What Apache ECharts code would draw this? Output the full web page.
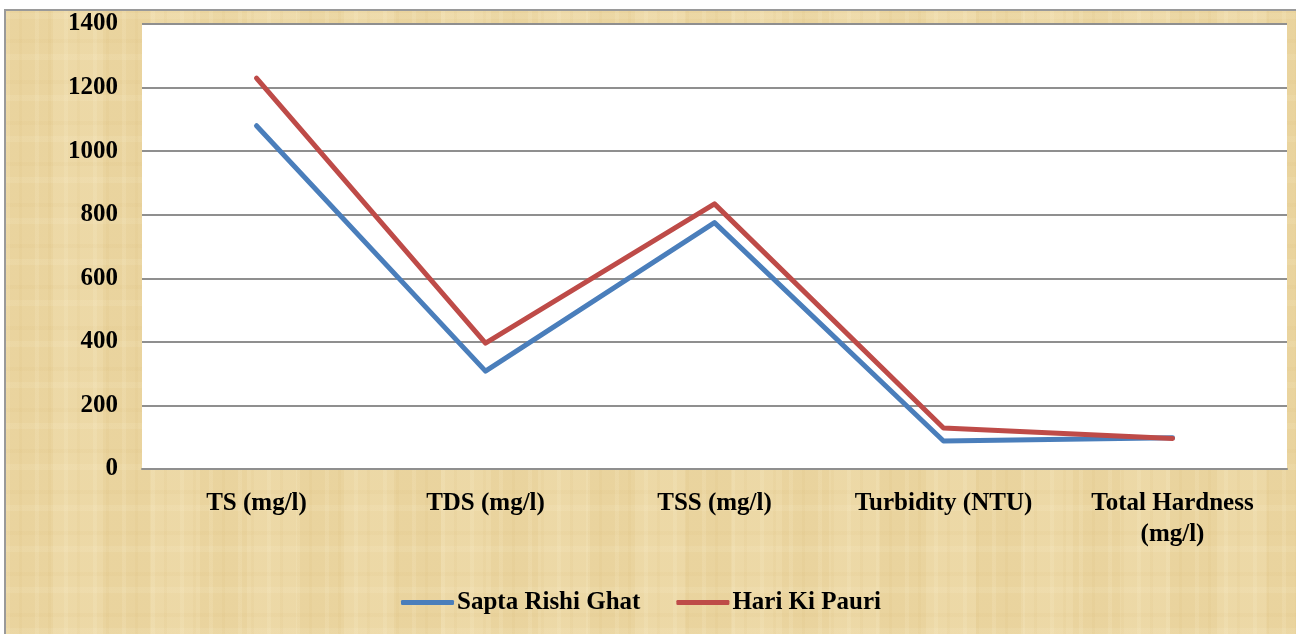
<!DOCTYPE html>
<html>
<head>
<meta charset="utf-8">
<script src="https://cdn.jsdelivr.net/npm/echarts@6/dist/echarts.min.js"></script>
<style>
  html, body { margin: 0; padding: 0; width: 1296px; height: 634px; overflow: hidden; background: #ffffff; }
  #paper {
    position: absolute; left: 4px; top: 9px; width: 1292px; height: 625px;
    border-left: 2px solid #9a9a9a; border-top: 2px solid #9a9a9a;
    box-sizing: border-box;
    background-color: #ebd6a2;
    background-image:
      repeating-linear-gradient(90deg, rgba(255,248,222,0.12) 0px, rgba(255,248,222,0.12) 4px, rgba(0,0,0,0) 4px, rgba(0,0,0,0) 13px, rgba(200,160,80,0.06) 13px, rgba(200,160,80,0.06) 16px, rgba(0,0,0,0) 16px, rgba(0,0,0,0) 29px),
      repeating-linear-gradient(0deg, rgba(255,248,222,0.10) 0px, rgba(255,248,222,0.10) 6px, rgba(0,0,0,0) 6px, rgba(0,0,0,0) 17px, rgba(200,160,80,0.05) 17px, rgba(200,160,80,0.05) 21px, rgba(0,0,0,0) 21px, rgba(0,0,0,0) 41px),
      repeating-linear-gradient(90deg, rgba(215,180,105,0.07) 0px, rgba(215,180,105,0.07) 47px, rgba(255,245,215,0.08) 47px, rgba(255,245,215,0.08) 97px);
  }
  #chart { position: absolute; left: 0; top: 0; width: 1296px; height: 634px; }
</style>
</head>
<body>
<div id="paper"></div>
<div id="chart"></div>
<script>
const categories = ['TS (mg/l)', 'TDS (mg/l)', 'TSS (mg/l)', 'Turbidity (NTU)', 'Total Hardness\n(mg/l)'];
const saptaRishiGhat = [1080, 308, 775, 88, 98];
const hariKiPauri = [1230, 396, 834, 129, 96];
const seriesNames = ['Sapta Rishi Ghat', 'Hari Ki Pauri'];

const chart = echarts.init(document.getElementById('chart'), null, { renderer: 'canvas' });
const font = '"Liberation Serif", "Times New Roman", serif';
chart.setOption({
  backgroundColor: 'transparent',
  animation: false,
  textStyle: { fontFamily: font },
  grid: {
    left: 142, right: 9, top: 24, bottom: 165,
    show: true, backgroundColor: '#ffffff', borderWidth: 0
  },
  legend: {
    left: 396, top: 585,
    itemWidth: 53, itemHeight: 5, itemGap: 36,
    icon: 'roundRect',
    textStyle: { fontFamily: font, fontSize: 25, fontWeight: 'bold', color: '#000', padding: [0, 0, 0, -2] },
    data: seriesNames
  },
  xAxis: {
    type: 'category',
    data: categories,
    boundaryGap: true,
    axisLine: { show: true, lineStyle: { color: '#8f8f8f', width: 2 } },
    axisTick: { show: false },
    axisLabel: {
      interval: 0, margin: 19,
      fontFamily: font, fontSize: 25, fontWeight: 'bold', color: '#000',
      lineHeight: 31, align: 'center'
    }
  },
  yAxis: {
    type: 'value',
    min: 0, max: 1400, interval: 200,
    axisLine: { show: false },
    axisTick: { show: false },
    axisLabel: {
      margin: 24, fontFamily: font, fontSize: 25, fontWeight: 'bold', color: '#000',
      formatter: function (v) { return String(v); }
    },
    splitLine: { show: true, lineStyle: { color: '#8f8f8f', width: 2 } }
  },
  series: [
    {
      name: seriesNames[0], type: 'line', data: saptaRishiGhat,
      showSymbol: false, symbol: 'none',
      color: '#4a7ebb',
      lineStyle: { color: '#4a7ebb', width: 5, cap: 'round', join: 'round' }
    },
    {
      name: seriesNames[1], type: 'line', data: hariKiPauri,
      showSymbol: false, symbol: 'none',
      color: '#be4b48',
      lineStyle: { color: '#be4b48', width: 5, cap: 'round', join: 'round' }
    }
  ]
});
</script>
</body>
</html>
